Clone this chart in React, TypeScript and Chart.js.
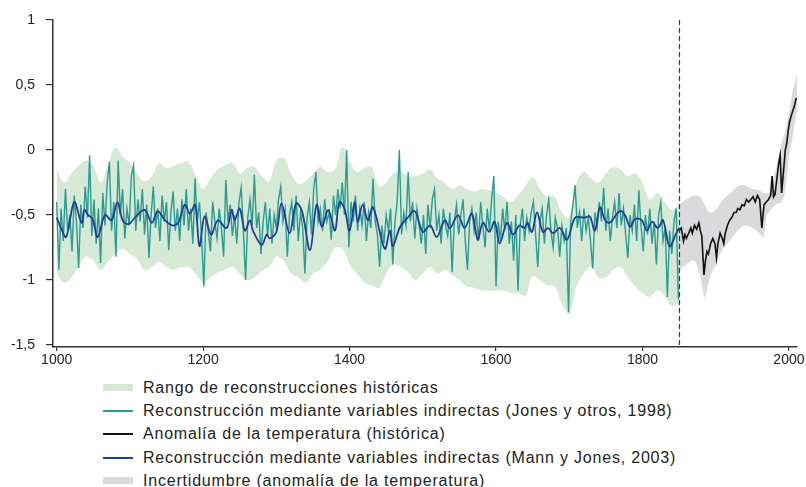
import React, { useEffect, useRef } from "react";
import { Chart, registerables } from "chart.js";

Chart.register(...registerables);

// ---------- tick labels ----------
const xTickYears = [1000, 1200, 1400, 1600, 1800, 2000];
const yTickValues = [-1.5, -1, -0.5, 0, 0.5, 1];
const instrumentStartYear = 1850;

// ---------- legend labels ----------
const labelRange = "Rango de reconstrucciones históricas";
const labelJones = "Reconstrucción mediante variables indirectas (Jones y otros, 1998)";
const labelTemp = "Anomalía de la temperatura (histórica)";
const labelMann = "Reconstrucción mediante variables indirectas (Mann y Jones, 2003)";
const labelUncert = "Incertidumbre (anomalía de la temperatura)";

// ---------- Jones et al. 1998 (every 3 years, 1000–1849) ----------
const jonesFirstYear = 1000;
const jonesYearStep = 3;
const jonesValues = [
  -0.40, -0.92, -0.45, -0.70, -0.30, -0.62, -0.50, -0.78, -0.35, -0.55,
  -0.91, -0.42, -0.60, -0.28, -0.52, -0.04, -0.66, -0.38, -0.72, -0.45,
  -0.87, -0.33, -0.58, -0.25, -0.09, -0.62, -0.40, -0.82, -0.08, -0.50,
  -0.30, -0.68, -0.45, -0.58, -0.20, -0.12, -0.62, -0.38, -0.55, -0.30,
  -0.65, -0.42, -0.83, -0.50, -0.28, -0.60, -0.45, -0.70, -0.35, -0.55,
  -0.40, -0.77, -0.48, -0.32, -0.62, -0.45, -0.70, -0.38, -0.58, -0.30,
  -0.62, -0.45, -0.72, -0.22, -0.55, -0.40, -0.68, -1.05, -0.48, -0.62,
  -0.78, -0.40, -0.55, -0.68, -0.45, -0.60, -0.82, -0.23, -0.55, -0.42,
  -0.66, -0.50, -0.72, -0.40, -0.29, -0.62, -1.00, -0.52, -0.38, -0.58,
  -0.19, -0.60, -0.48, -0.80, -0.55, -0.40, -0.66, -0.45, -0.72, -0.50,
  -0.60, -0.38, -0.28, -0.55, -0.45, -0.82, -0.50, -0.40, -0.62, -0.35,
  -0.70, -0.48, -0.60, -0.95, -0.52, -0.40, -0.65, -0.30, -0.17, -0.55,
  -0.45, -0.62, -0.38, -0.55, -0.48, -0.69, -0.35, -0.50, -0.30, -0.45,
  -0.25, -0.50, 0.0, -0.75, -0.40, -0.55, -0.35, -0.62, -0.45, -0.58,
  -0.40, -0.70, -0.48, -0.60, -0.22, -0.55, -0.65, -0.90, -0.58, -0.72,
  -0.50, -0.62, -0.45, -0.88, -0.55, -0.40, 0.0, -0.65, -0.48, -0.58,
  -0.17, -0.55, -0.40, -0.68, -0.45, -0.58, -0.72, -0.50, -0.80, -0.42,
  -0.60, -0.38, -0.30, -0.62, -0.50, -0.72, -0.45, -0.58, -0.66, -0.48,
  -0.94, -0.55, -0.42, -0.65, -0.50, -0.38, -0.70, -0.92, -0.55, -0.45,
  -0.62, -0.48, -0.70, -0.40, -0.58, -0.75, -0.45, -0.62, -0.38, -0.20,
  -1.05, -0.55, -0.70, -0.45, -0.62, -0.40, -0.72, -0.55, -0.85, -0.50,
  -1.08, -0.58, -0.45, -0.70, -0.52, -0.62, -0.48, -0.40, -0.65, -0.90,
  -0.55, -0.45, -0.72, -0.50, -0.38, -0.62, -0.75, -0.52, -0.60, -0.82,
  -0.58, -0.70, -0.60, -1.25, -0.55, -0.42, -0.27, -0.60, -0.48, -0.70,
  -0.45, -0.62, -0.52, -0.70, -0.91, -0.48, -0.60, -0.40, -0.55, -0.29,
  -0.62, -0.45, -0.70, -0.52, -0.40, -0.60, -0.33, -0.58, -0.45, -0.65,
  -0.83, -0.50, -0.62, -0.42, -0.70, -0.31, -0.58, -0.78, -0.50, -0.65,
  -0.45, -0.72, -0.55, -0.88, -0.50, -0.40, -0.70, -0.60, -1.13, -0.62,
  -0.80, -0.55, -0.45, -1.15,
];

// ---------- Mann & Jones 2003 (smoothed) ----------
const mannYears = [
  1000, 1006, 1013, 1024, 1034, 1038, 1043, 1049, 1056, 1066,
  1075, 1083, 1090, 1098, 1107, 1120, 1130, 1138, 1148, 1158,
  1166, 1175, 1182, 1189, 1195, 1202, 1211, 1220, 1232, 1239,
  1243, 1250, 1257, 1264, 1268, 1280, 1287, 1291, 1300, 1307,
  1318, 1327, 1335, 1346, 1355, 1362, 1371, 1380, 1386, 1393,
  1400, 1407, 1411, 1418, 1425, 1432, 1448, 1455, 1459, 1469,
  1478, 1489, 1500, 1510, 1519, 1530, 1537, 1548, 1557, 1567,
  1575, 1582, 1591, 1598, 1605, 1615, 1623, 1632, 1639, 1643,
  1649, 1656, 1664, 1671, 1678, 1687, 1697, 1708, 1721, 1728,
  1735, 1742, 1749, 1755, 1769, 1776, 1783, 1790, 1799, 1806,
  1813, 1821, 1828, 1837, 1847, 1850,
];
const mannValues = [
  -0.52, -0.60, -0.67, -0.40, -0.56, -0.46, -0.50, -0.53, -0.67, -0.50,
  -0.54, -0.40, -0.54, -0.57, -0.52, -0.46, -0.56, -0.47, -0.54, -0.58,
  -0.56, -0.42, -0.49, -0.42, -0.74, -0.51, -0.65, -0.54, -0.60, -0.46,
  -0.54, -0.45, -0.62, -0.54, -0.62, -0.73, -0.65, -0.68, -0.63, -0.41,
  -0.64, -0.41, -0.47, -0.77, -0.42, -0.59, -0.46, -0.62, -0.40, -0.45,
  -0.62, -0.40, -0.55, -0.42, -0.54, -0.44, -0.76, -0.62, -0.74, -0.59,
  -0.53, -0.47, -0.63, -0.58, -0.67, -0.54, -0.60, -0.50, -0.60, -0.49,
  -0.69, -0.56, -0.63, -0.55, -0.72, -0.56, -0.65, -0.58, -0.60, -0.56,
  -0.63, -0.48, -0.63, -0.60, -0.64, -0.60, -0.69, -0.52, -0.52, -0.51,
  -0.62, -0.44, -0.54, -0.56, -0.47, -0.50, -0.59, -0.53, -0.54, -0.62,
  -0.55, -0.60, -0.54, -0.74, -0.63, -0.60,
];

// ---------- range of historical reconstructions (every 10 years) ----------
const rangeFirstYear = 1000;
const rangeYearStep = 10;
const rangeUpper = [
  -0.14, -0.25, -0.18, -0.12, -0.08, -0.12, -0.25, -0.12, 0.02, -0.05,
  -0.10, -0.18, -0.24, -0.20, -0.10, -0.14, -0.12, -0.10, -0.09, -0.20,
  -0.30, -0.22, -0.15, -0.12, -0.10, -0.18, -0.14, -0.13, -0.20, -0.24,
  -0.08, -0.06, -0.18, -0.26, -0.24, -0.18, -0.13, -0.17, -0.15, 0.02,
  -0.08, -0.17, -0.14, -0.13, -0.28, -0.25, -0.18, -0.17, -0.20, -0.20,
  -0.18, -0.15, -0.22, -0.25, -0.30, -0.27, -0.30, -0.32, -0.30, -0.31,
  -0.33, -0.36, -0.40, -0.35, -0.28, -0.21, -0.30, -0.36, -0.36, -0.48,
  -0.52, -0.25, -0.17, -0.22, -0.25, -0.18, -0.13, -0.15, -0.20, -0.18,
  -0.25, -0.38, -0.33, -0.40, -0.46, -0.42,
];
const rangeLower = [
  -0.95, -1.02, -0.98, -0.90, -0.82, -0.85, -0.92, -0.86, -0.80, -0.76,
  -0.80, -0.84, -0.92, -0.90, -0.86, -0.90, -0.92, -0.90, -0.90, -0.95,
  -1.02, -0.98, -0.94, -0.92, -0.90, -0.95, -1.00, -0.98, -0.93, -0.90,
  -0.82, -0.85, -0.95, -0.98, -1.02, -0.95, -0.92, -0.86, -0.75, -0.76,
  -0.88, -0.95, -1.02, -1.04, -1.06, -0.95, -0.88, -0.90, -0.94, -1.00,
  -0.95, -0.90, -0.95, -0.92, -0.96, -1.00, -1.05, -1.06, -1.08, -1.08,
  -1.08, -1.08, -1.10, -1.10, -1.12, -0.97, -1.00, -1.04, -1.05, -1.18,
  -1.26, -1.05, -0.95, -0.90, -0.98, -0.98, -0.92, -0.90, -0.98, -1.05,
  -1.10, -1.13, -1.08, -1.12, -1.20, -1.18,
];

// ---------- instrumental temperature anomaly ----------
const tempYears = [
  1850, 1853, 1856, 1858, 1860, 1863, 1866, 1868, 1871, 1874,
  1877, 1879, 1881, 1884, 1886, 1888, 1890, 1893, 1896, 1899,
  1901, 1903, 1906, 1909, 1911, 1913, 1916, 1919, 1922, 1925,
  1928, 1930, 1933, 1936, 1939, 1942, 1945, 1948, 1951, 1954,
  1957, 1960, 1963, 1966, 1969, 1972, 1975, 1977, 1979, 1981,
  1984, 1986, 1988, 1990, 1992, 1995, 1997, 1999, 2001, 2004,
  2007, 2010,
];
const tempValues = [
  -0.62, -0.60, -0.70, -0.65, -0.68, -0.64, -0.60, -0.64, -0.58, -0.61,
  -0.56, -0.62, -0.66, -0.96, -0.85, -0.78, -0.80, -0.72, -0.68, -0.72,
  -0.83, -0.72, -0.64, -0.68, -0.72, -0.64, -0.58, -0.54, -0.52, -0.48,
  -0.48, -0.45, -0.46, -0.42, -0.43, -0.38, -0.40, -0.38, -0.36, -0.40,
  -0.35, -0.38, -0.60, -0.42, -0.40, -0.38, -0.35, -0.20, -0.36, -0.34,
  -0.20, -0.10, -0.04, -0.33, -0.20, 0.0, 0.05, 0.15, 0.22, 0.28,
  0.33, 0.40,
];

// ---------- uncertainty of temperature anomaly ----------
const uncertYears = [
  1850, 1860, 1870, 1878, 1885, 1892, 1900, 1910, 1920, 1930,
  1940, 1950, 1960, 1965, 1970, 1975, 1980, 1985, 1990, 1995,
  2000, 2005, 2011,
];
const uncertUpper = [
  -0.42, -0.38, -0.35, -0.36, -0.42, -0.48, -0.46, -0.38, -0.33, -0.28,
  -0.27, -0.30, -0.31, -0.33, -0.33, -0.32, -0.20, -0.08, 0.05, 0.15,
  0.28, 0.45, 0.58,
];
const uncertLower = [
  -0.92, -0.88, -0.85, -0.95, -1.13, -0.98, -0.88, -0.76, -0.69, -0.62,
  -0.58, -0.60, -0.64, -0.67, -0.50, -0.46, -0.43, -0.41, -0.40, -0.30,
  -0.05, 0.10, 0.31,
];

// ---------- colours ----------
const colRange = "#d6e9d5";
const colJones = "#2a9a93";
const colTemp = "#111111";
const colMann = "#203f92";
const colUncert = "#dadadc";

const FONT = "'Liberation Sans', Arial, sans-serif";

const legendItems = [
  { label: labelRange, kind: "box", color: colRange },
  { label: labelJones, kind: "line", color: colJones },
  { label: labelTemp, kind: "line", color: colTemp },
  { label: labelMann, kind: "line", color: colMann },
  { label: labelUncert, kind: "box", color: colUncert },
];

const pts = (xs: number[], ys: number[]) => ys.map((y, i) => ({ x: xs[i], y }));
const stepPts = (first: number, step: number, ys: number[]) =>
  ys.map((y, i) => ({ x: first + i * step, y }));

const dashedLinePlugin = {
  id: "instrumentStart",
  afterDatasetsDraw(chart: any) {
    const { ctx, chartArea, scales } = chart;
    const x = Math.round(scales.x.getPixelForValue(instrumentStartYear)) + 0.5;
    ctx.save();
    ctx.strokeStyle = "#333";
    ctx.lineWidth = 1.2;
    ctx.setLineDash([5, 3]);
    ctx.beginPath();
    ctx.moveTo(x, chartArea.top);
    ctx.lineTo(x, chartArea.bottom);
    ctx.stroke();
    ctx.restore();
  },
};

export default function App() {
  const canvasRef = useRef<HTMLCanvasElement | null>(null);

  useEffect(() => {
    if (!canvasRef.current) return;
    const chart = new Chart(canvasRef.current, {
      type: "line",
      data: {
        datasets: [
          {
            label: labelMann,
            data: pts(mannYears, mannValues),
            borderColor: colMann,
            borderWidth: 1.8,
            pointRadius: 0,
            tension: 0.35,
            fill: false,
          },
          {
            label: labelJones,
            data: stepPts(jonesFirstYear, jonesYearStep, jonesValues),
            borderColor: colJones,
            borderWidth: 1.4,
            pointRadius: 0,
            tension: 0,
            fill: false,
          },
          {
            label: labelTemp,
            data: pts(tempYears, tempValues),
            borderColor: colTemp,
            borderWidth: 1.6,
            pointRadius: 0,
            tension: 0,
            fill: false,
          },
          {
            label: labelRange,
            data: stepPts(rangeFirstYear, rangeYearStep, rangeUpper),
            borderColor: "rgba(0,0,0,0)",
            borderWidth: 0,
            backgroundColor: colRange,
            pointRadius: 0,
            tension: 0.4,
            fill: 4,
          },
          {
            label: labelRange + " (inferior)",
            data: stepPts(rangeFirstYear, rangeYearStep, rangeLower),
            borderColor: "rgba(0,0,0,0)",
            borderWidth: 0,
            pointRadius: 0,
            tension: 0.4,
            fill: false,
          },
          {
            label: labelUncert,
            data: pts(uncertYears, uncertUpper),
            borderColor: "rgba(0,0,0,0)",
            borderWidth: 0,
            backgroundColor: colUncert,
            pointRadius: 0,
            tension: 0.4,
            fill: 6,
          },
          {
            label: labelUncert + " (inferior)",
            data: pts(uncertYears, uncertLower),
            borderColor: "rgba(0,0,0,0)",
            borderWidth: 0,
            pointRadius: 0,
            tension: 0.4,
            fill: false,
          },
        ],
      },
      options: {
        animation: false,
        responsive: false,
        devicePixelRatio: 1,
        layout: { padding: { top: 20, right: 9, left: 0, bottom: 0 } },
        plugins: {
          legend: { display: false },
          tooltip: { enabled: false },
        },
        scales: {
          x: {
            type: "linear",
            min: 995,
            max: 2011,
            afterBuildTicks: (s: any) => {
              s.ticks = xTickYears.map((v) => ({ value: v }));
            },
            afterFit: (s: any) => {
              s.height = 23;
            },
            ticks: {
              callback: (v: any) => String(v),
              font: { family: FONT, size: 14 },
              color: "#222",
              padding: 1,
              maxRotation: 0,
              autoSkip: false,
            },
            grid: { display: true, drawOnChartArea: false, drawTicks: true, tickLength: 4, color: "#333", lineWidth: 1.2 },
            border: { display: true, color: "#333", width: 1.5 },
          },
          y: {
            type: "linear",
            min: -1.515,
            max: 1,
            afterBuildTicks: (s: any) => {
              s.ticks = yTickValues.map((v) => ({ value: v }));
            },
            afterFit: (s: any) => {
              s.width = 53;
            },
            ticks: {
              callback: (v: any) => String(v).replace(".", ","),
              font: { family: FONT, size: 14 },
              color: "#222",
              padding: 11,
              autoSkip: false,
            },
            grid: { display: true, drawOnChartArea: false, drawTicks: true, tickLength: 7, color: "#333", lineWidth: 1.2 },
            border: { display: true, color: "#333", width: 1.5 },
          },
        },
      },
      plugins: [dashedLinePlugin],
    } as any);
    return () => chart.destroy();
  }, []);

  return (
    <div style={{ position: "absolute", left: 0, top: 0, width: 806, height: 487, background: "#fff", overflow: "hidden" }}>
      <canvas ref={canvasRef} width={806} height={370} style={{ display: "block", width: 806, height: 370 }} />
      {legendItems.map((item, i) => {
        const cy = Math.round(388 + i * 23.2);
        return (
          <div key={i}>
            {item.kind === "box" ? (
              <div style={{ position: "absolute", left: 103, top: cy - 4, width: 30, height: 7, background: item.color }} />
            ) : (
              <div style={{ position: "absolute", left: 103, top: cy - 1, width: 30, height: 2, background: item.color }} />
            )}
            <div
              style={{
                position: "absolute",
                left: 143,
                top: cy - 11,
                height: 22,
                lineHeight: "22px",
                fontFamily: FONT,
                fontSize: 16,
                letterSpacing: "0.8px",
                color: "#222",
                whiteSpace: "nowrap",
              }}
            >
              {item.label}
            </div>
          </div>
        );
      })}
    </div>
  );
}
